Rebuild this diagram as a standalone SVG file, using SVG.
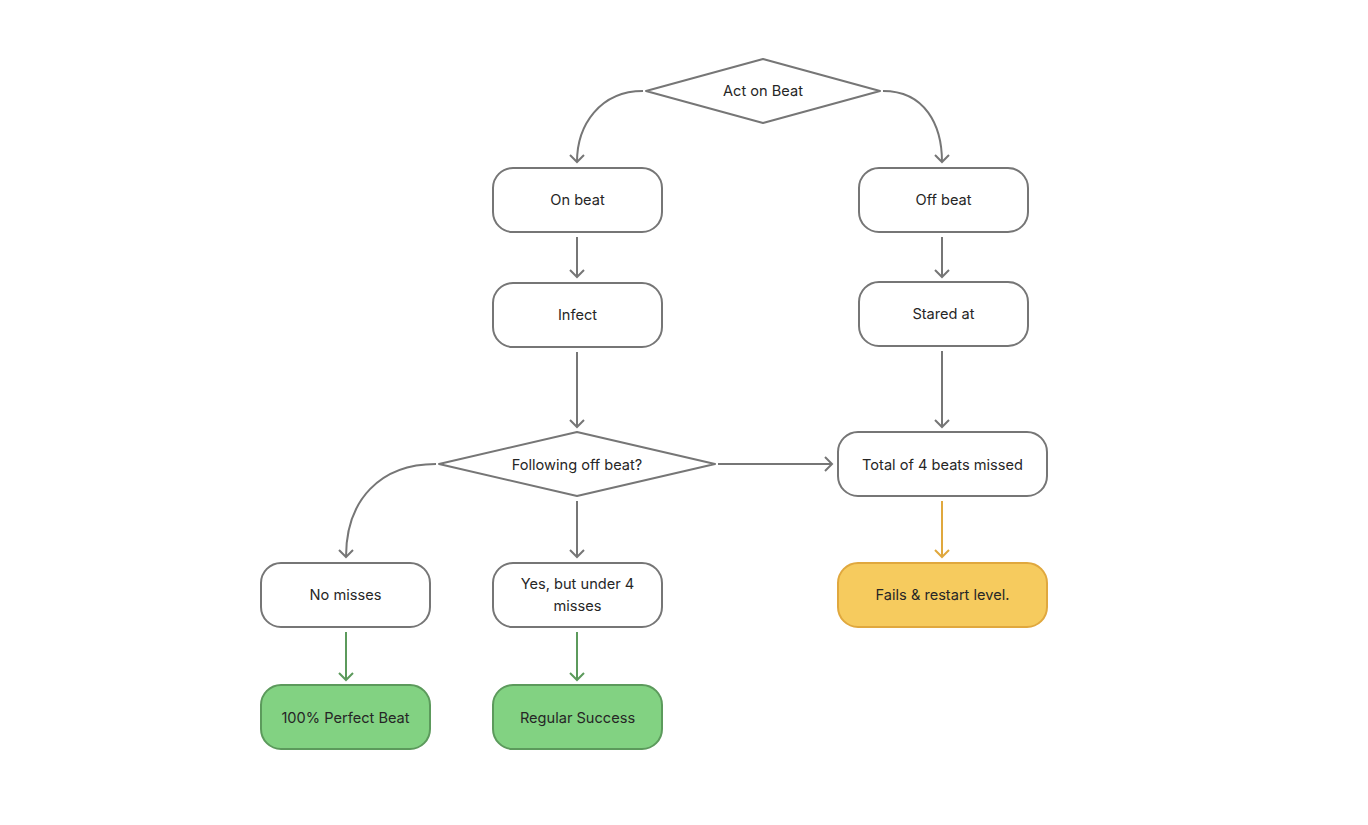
<svg xmlns="http://www.w3.org/2000/svg" width="1368" height="825" viewBox="0 0 1368 825">
<defs>
<style>
.box{fill:#fff;stroke:#767676;stroke-width:2}
.green{fill:#82d282;stroke:#5c9a5c;stroke-width:2}
.yellow{fill:#f6cb5e;stroke:#e0a83e;stroke-width:2}
.dia{fill:#fff;stroke:#767676;stroke-width:2;stroke-linejoin:round}
.t{font-family:Inter,"Liberation Sans",sans-serif;font-size:14.6px;fill:#262626;text-anchor:middle;dominant-baseline:central}
.c{fill:none;stroke:#767676;stroke-width:2}
.cg{fill:none;stroke:#5c9a5c;stroke-width:2}
.cy{fill:none;stroke:#e0a83e;stroke-width:2}
</style>
<marker id="ag" viewBox="-10 -10 20 20" markerWidth="20" markerHeight="20" refX="0" refY="0" orient="auto" markerUnits="userSpaceOnUse"><path d="M-7,-7 L0,0 L-7,7" fill="none" stroke="#767676" stroke-width="2"/></marker>
<marker id="agr" viewBox="-10 -10 20 20" markerWidth="20" markerHeight="20" refX="0" refY="0" orient="auto" markerUnits="userSpaceOnUse"><path d="M-7,-7 L0,0 L-7,7" fill="none" stroke="#5c9a5c" stroke-width="2"/></marker>
<marker id="ay" viewBox="-10 -10 20 20" markerWidth="20" markerHeight="20" refX="0" refY="0" orient="auto" markerUnits="userSpaceOnUse"><path d="M-7,-7 L0,0 L-7,7" fill="none" stroke="#e0a83e" stroke-width="2"/></marker>
</defs>
<rect width="1368" height="825" fill="#fff"/>
<g id="connectors">
<path class="c" d="M643 91 C600 91 577 125 577 162" marker-end="url(#ag)"/>
<path class="c" d="M883 91 C925 91 942 125 942 162" marker-end="url(#ag)"/>
<path class="c" d="M577 237 L577 277" marker-end="url(#ag)"/>
<path class="c" d="M942 237 L942 277" marker-end="url(#ag)"/>
<path class="c" d="M577 352 L577 427" marker-end="url(#ag)"/>
<path class="c" d="M942 351 L942 427" marker-end="url(#ag)"/>
<path class="c" d="M718 464 L832 464" marker-end="url(#ag)"/>
<path class="c" d="M436 464 C380 464 346 500 346 557" marker-end="url(#ag)"/>
<path class="c" d="M577 501 L577 557" marker-end="url(#ag)"/>
<path class="cg" d="M346 632 L346 680" marker-end="url(#agr)"/>
<path class="cg" d="M577 632 L577 680" marker-end="url(#agr)"/>
<path class="cy" d="M942 501 L942 557" marker-end="url(#ay)"/>
</g>
<g id="act"><path class="dia" d="M763 59 L880 91 L763 123 L646 91 Z"/><text class="t" x="763" y="91">Act on Beat</text></g>
<g id="onbeat"><rect class="box" x="493" y="168" width="169" height="64" rx="20"/><text class="t" x="577.5" y="200">On beat</text></g>
<g id="offbeat"><rect class="box" x="859" y="168" width="169" height="64" rx="20"/><text class="t" x="943.5" y="200">Off beat</text></g>
<g id="infect"><rect class="box" x="493" y="283" width="169" height="64" rx="20"/><text class="t" x="577.5" y="315">Infect</text></g>
<g id="stared"><rect class="box" x="859" y="282" width="169" height="64" rx="20"/><text class="t" x="943.5" y="314">Stared at</text></g>
<g id="following"><path class="dia" d="M577 432 L715 464 L577 496 L439 464 Z"/><text class="t" x="577" y="464.5">Following off beat?</text></g>
<g id="total"><rect class="box" x="838" y="432" width="209" height="64" rx="20"/><text class="t" x="942.5" y="464.5">Total of 4 beats missed</text></g>
<g id="nomisses"><rect class="box" x="261" y="563" width="169" height="64" rx="20"/><text class="t" x="345.5" y="595">No misses</text></g>
<g id="yes"><rect class="box" x="493" y="563" width="169" height="64" rx="20"/><text class="t" x="577.5" y="584">Yes, but under 4</text><text class="t" x="577.5" y="606">misses</text></g>
<g id="fails"><rect class="yellow" x="838" y="563" width="209" height="64" rx="20"/><text class="t" x="942.5" y="595">Fails &amp; restart level.</text></g>
<g id="perfect"><rect class="green" x="261" y="685" width="169" height="64" rx="20"/><text class="t" x="345.5" y="717.5">100% Perfect Beat</text></g>
<g id="regular"><rect class="green" x="493" y="685" width="169" height="64" rx="20"/><text class="t" x="577.5" y="717.5">Regular Success</text></g>
</svg>
